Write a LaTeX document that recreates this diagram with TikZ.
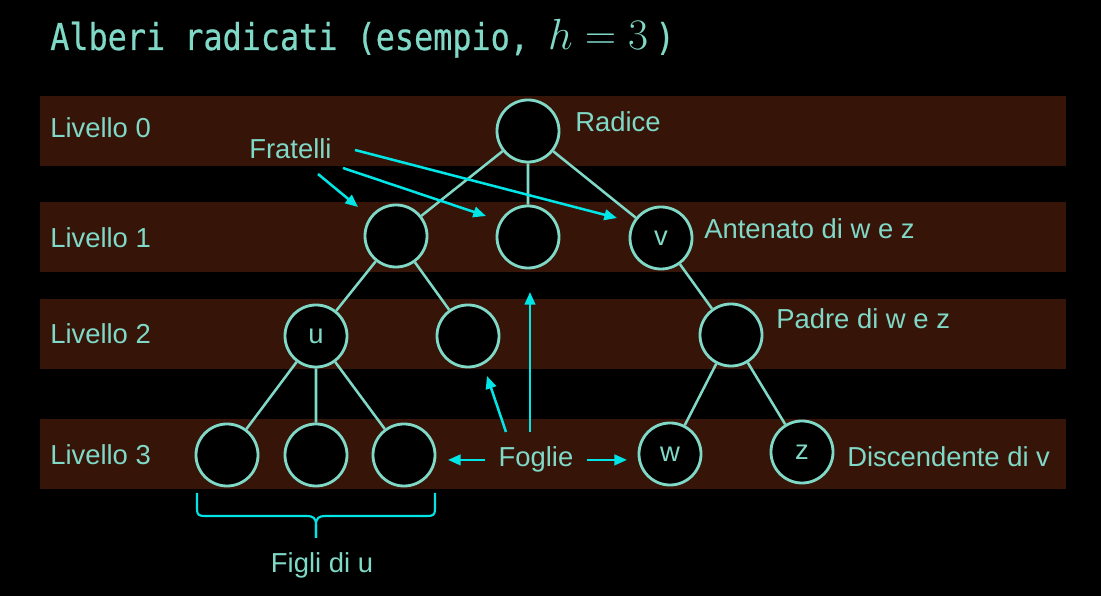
\documentclass[tikz,border=0pt]{standalone}
\usepackage{fix-cm}
\usepackage{fontspec}
\setmainfont{Liberation Sans}
\newfontfamily\titlefont[FakeStretch=0.86, FakeBold=0.6]{DejaVu Sans Mono}
\usetikzlibrary{arrows.meta}
\definecolor{mint}{HTML}{80D9C7}
\definecolor{aqua}{HTML}{00E6E6}
\definecolor{bandbrown}{HTML}{361408}

\begin{document}
\begin{tikzpicture}[x=0.025cm, y=-0.025cm,
    every node/.style={text=mint, font=\fontsize{19.5}{23}\selectfont},
    vertex/.style={circle, draw=mint, line width=2pt, fill=black, minimum size=1.55cm, inner sep=0pt},
    link/.style={draw=mint, line width=1.8pt},
    lbl/.style={anchor=base west, inner sep=0pt},
    arr/.style={draw=aqua, line width=1.8pt, -{Triangle[length=9pt,width=7.5pt]}}]

    \fill[black] (0,0) rectangle (1101,596);

    \node[lbl, font=\titlefont\fontsize{26.3}{30}\selectfont] (title) at (50,50)
      {Alberi radicati (esempio, {\fontsize{31}{34}\selectfont$h=3$\,})};

    \foreach \y/\n/\b in {96/0/138, 202/1/248, 299/2/344, 419/3/465} {
      \fill[bandbrown] (40,\y) rectangle (1066,\y+70);
      \node[lbl] (lv\n) at (50,\b) {Livello \n};
    }

    \node[vertex] (root) at (528,131) {};
    \node[vertex] (a) at (396,236) {};
    \node[vertex] (b) at (528,237) {};
    \node[vertex] (v) at (661,238) {v};
    \node[vertex] (u) at (316,336) {u};
    \node[vertex] (c) at (468,336) {};
    \node[vertex] (p) at (731,335) {};
    \node[vertex] (f1) at (227,455) {};
    \node[vertex] (f2) at (316,455) {};
    \node[vertex] (f3) at (404,455) {};
    \node[vertex] (w) at (670,454) {w};
    \node[vertex] (z) at (802,452) {z};

    \draw[link] (root) -- (a) (root) -- (b) (root) -- (v);
    \draw[link] (a) -- (u) (a) -- (c) (v) -- (p);
    \draw[link] (u) -- (f1) (u) -- (f2) (u) -- (f3);
    \draw[link] (p) -- (w) (p) -- (z);

    \node[lbl] (rad) at (575,132) {Radice};
    \node[lbl] (fra) at (249,159) {Fratelli};
    \node[lbl] (ant) at (704,239) {Antenato di w e z};
    \node[lbl] (pad) at (776,329) {Padre di w e z};
    \node[lbl] (dis) at (847,467) {Discendente di v};
    \node[anchor=base, inner sep=13*0.025cm] (fog) at (536,467) {Foglie};
    \node[anchor=base, inner sep=0pt] (fig) at (322,573) {Figli di u};

    \coordinate (s1) at (318,174);
    \coordinate (s2) at (343,168);
    \coordinate (s3) at (355,150);
    \coordinate (t1) at (358,207);
    \coordinate (t2) at (486,216);
    \coordinate (t3) at (617,218);
    \draw[arr] (s1) -- (t1);
    \draw[arr] (s2) -- (t2);
    \draw[arr] (s3) -- (t3);

    \coordinate (fl) at (448,459);
    \coordinate (fr) at (627,459);
    \coordinate (g1) at (506,432);
    \coordinate (g2) at (530,432);
    \coordinate (h1) at (487,376);
    \coordinate (h2) at (530,292);
    \draw[arr] (fog.west) -- (fl |- fog.west);
    \draw[arr] (fog.east) -- (fr |- fog.east);
    \draw[arr] (g1) -- (h1);
    \draw[arr] (g2) -- (h2);

    \coordinate (br) at (316,538);
    \draw[aqua, line width=1.5pt] (br) -- (316,525) .. controls (316,518) and (313,516) .. (307,516)
      -- (205,516) .. controls (199,516) and (197,515) .. (197,509) -- (197,493);
    \draw[aqua, line width=1.5pt] (br) -- (316,525) .. controls (316,518) and (319,516) .. (325,516)
      -- (427,516) .. controls (433,516) and (435,515) .. (435,509) -- (435,493);
  \end{tikzpicture}
\end{document}
